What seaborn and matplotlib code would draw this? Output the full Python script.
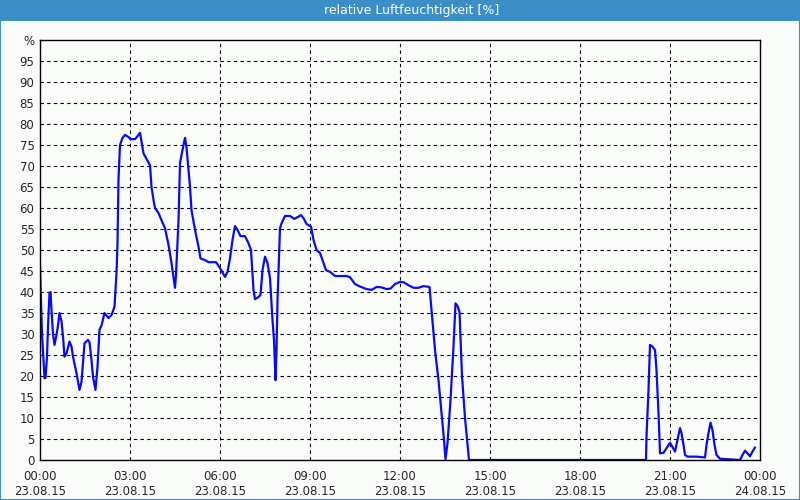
import matplotlib
matplotlib.use("Agg")
import matplotlib.pyplot as plt
import matplotlib.patches as mpatches
import seaborn as sns
import pandas as pd

# minutes since 23.08.15 00:00
minutes = [0, 4, 9, 11, 14, 16, 19, 21, 23, 26, 29, 33, 36, 39, 43, 46, 49, 53, 59, 63,
           66, 73, 79, 83, 89, 96, 99, 103, 106, 111, 115, 119, 123, 129, 137, 143, 149, 153, 155, 157,
           160, 165, 170, 177, 181, 190, 195, 200, 207, 212, 220, 223, 227, 230, 237, 243, 250, 257, 263, 269,
           270, 272, 277, 280, 285, 290, 293, 297, 300, 303, 310, 317, 321, 330, 337, 352, 360, 370, 375, 380,
           385, 390, 395, 401, 410, 417, 422, 427, 430, 437, 441, 445, 450, 455, 460, 465, 468, 471, 473, 475,
           480, 483, 490, 500, 509, 522, 527, 533, 542, 547, 553, 560, 567, 572, 580, 590, 613, 620, 630, 640,
           653, 663, 673, 683, 693, 701, 710, 720, 728, 737, 747, 757, 767, 779, 783, 790, 797, 803, 808, 811,
           815, 821, 827, 831, 835, 839, 844, 850, 858, 1212, 1213, 1217, 1220, 1225, 1230, 1233, 1237, 1240, 1247,
           1253, 1260, 1265, 1270, 1275, 1280, 1283, 1287, 1290, 1295, 1313, 1330, 1333, 1337, 1341, 1345, 1349, 1353, 1360,
           1400, 1405, 1410, 1415, 1420, 1425, 1430]
humidity = [46, 30, 19.5, 19.5, 24.6, 31.7, 39.7, 40, 35.7, 30, 27.4, 29.8, 32, 35, 33, 29.4, 24.6, 25.4, 28.2, 27,
            24.6, 20.7, 16.7, 18.6, 27.8, 28.6, 28, 23.8, 19.8, 16.7, 22.2, 31, 32, 35, 33.8, 34.5, 36.5, 44.5, 51.6, 67,
            75, 76.7, 77.4, 76.9, 76.4, 76.4, 77.1, 77.9, 73, 71.9, 70.2, 65, 61.9, 60, 58.8, 57.1, 55.2, 51.2, 46.9, 42,
            41, 44, 57, 70.7, 73.8, 76.7, 74.5, 69, 65, 59.5, 54.8, 50.8, 48, 47.6, 47.1, 47.1, 45.7, 43.6, 44.8, 48,
            52.4, 55.7, 54.8, 53.3, 53.3, 51.6, 50, 40.5, 38.3, 38.8, 39.3, 45.2, 48.4, 46.9, 43.3, 33.3, 28.6, 19, 26, 38,
            55.2, 56.3, 58.1, 58.1, 57.4, 58.3, 57.6, 56.2, 55.6, 52.4, 50, 49.3, 46.9, 45.2, 44.8, 43.8, 43.8, 43.5, 41.9, 41.3,
            40.7, 40.5, 41.2, 41.1, 40.7, 40.8, 41.9, 42.4, 42.3, 41.6, 41, 41, 41.4, 41.2, 35.7, 26.2, 19, 11.1, 4.8, 0.2,
            4, 14.3, 27, 37.3, 36.7, 35.3, 20, 10, 0, 0, 5.6, 16.7, 27.4, 27, 26.2, 21.4, 11.1, 1.6, 1.7,
            2.8, 4.1, 3.1, 2, 4.8, 7.6, 6.4, 3.6, 1.2, 0.8, 0.8, 0.6, 3.6, 6.4, 8.9, 7.1, 3.6, 1.2, 0.3,
            0, 1.2, 2.2, 1.6, 0.9, 2, 3]

tick_hours = [0, 3, 6, 9, 12, 15, 18, 21, 24]
tick_labels = ["00:00\n23.08.15", "03:00\n23.08.15", "06:00\n23.08.15", "09:00\n23.08.15",
               "12:00\n23.08.15", "15:00\n23.08.15", "18:00\n23.08.15", "21:00\n23.08.15",
               "00:00\n24.08.15"]
y_ticks = list(range(0, 100, 5))
title = "relative Luftfeuchtigkeit [%]"

df = pd.DataFrame({"hours": [m / 60 for m in minutes], "rh": humidity})

sns.set_style("white")
plt.rcParams["font.family"] = ["DejaVu Sans"]

bg = "#fafcfa"
blue_bar = "#3c8fc6"

fig = plt.figure(figsize=(8, 5), dpi=100, facecolor=bg)
ax = fig.add_axes([0.05, 0.08, 0.90, 0.84], facecolor=bg)

sns.lineplot(data=df, x="hours", y="rh", ax=ax, color="#0a0af0", linewidth=1.6)

ax.set_xlim(0, 24)
ax.set_ylim(0, 100)
ax.set_xticks(tick_hours)
ax.set_xticklabels(tick_labels, fontsize=8.5, linespacing=1.25)
ax.set_xticks([h + 1.5 for h in tick_hours[:-1]], minor=True)
ax.set_yticks(y_ticks + [100])
ax.set_yticklabels([str(v) for v in y_ticks] + ["%"], fontsize=8.5)
ax.set_xlabel("")
ax.set_ylabel("")

ax.tick_params(axis="x", which="major", direction="out", length=5, width=1, color="black", pad=2)
ax.tick_params(axis="x", which="minor", direction="out", length=3, width=1, color="black")
ax.tick_params(axis="y", which="major", direction="out", length=0, pad=4)

ax.grid(False)
for v in y_ticks[1:]:
    ax.axhline(v, color="black", linestyle=(0, (3, 3)), linewidth=0.8, zorder=0)
for h in tick_hours[1:-1]:
    ax.axvline(h, color="black", linestyle=(0, (3, 3)), linewidth=0.8, zorder=0)

for s in ax.spines.values():
    s.set_visible(True)
    s.set_color("black")
    s.set_linewidth(1)

# title bar
fig.patches.append(mpatches.Rectangle((0, 0.958), 1, 0.042, transform=fig.transFigure,
                                      facecolor=blue_bar, edgecolor="none", zorder=0))
fig.patches.append(mpatches.Rectangle((0.0006, 0.001), 0.9988, 0.998, transform=fig.transFigure,
                                      facecolor="none", edgecolor=blue_bar, linewidth=1.5, zorder=1))
fig.text(0.515, 0.979, title, color="white", fontsize=9, ha="center", va="center")

fig.savefig("out.png", dpi=100, facecolor=bg)
